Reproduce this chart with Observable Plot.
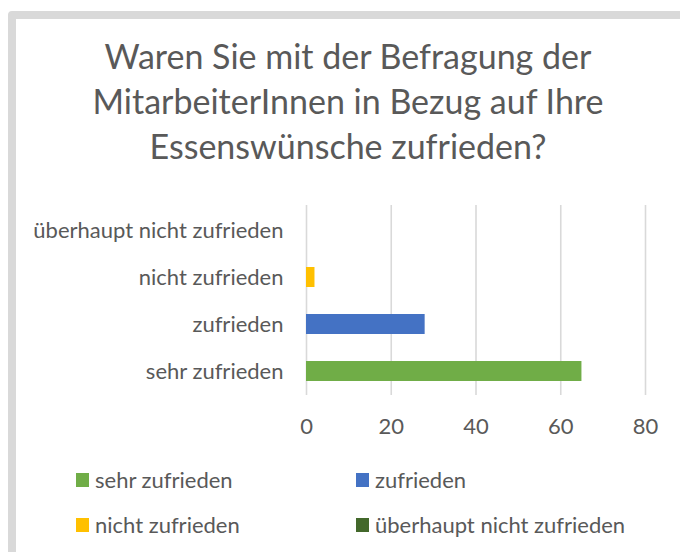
<!DOCTYPE html>
<html>
<head>
<meta charset="utf-8">
<script src="https://cdn.jsdelivr.net/npm/d3@7"></script>
<script src="https://cdn.jsdelivr.net/npm/@observablehq/plot@0.6"></script>
<style>
  html, body { margin: 0; padding: 0; width: 680px; height: 552px; overflow: hidden; background: #fff; font-family: Lato, "Open Sans", sans-serif; color: #595959; }
  #frame { position: absolute; left: 8px; top: 11px; width: 800px; height: 700px; border: 8px solid #d9d9d9; border-radius: 4px; box-sizing: border-box; }
  #title { position: absolute; left: 0; top: 33px; width: 696px; text-align: center; font-size: 34px; line-height: 45px; color: #595959; }
  #chart { position: absolute; left: 0; top: 195px; }
  .leg { position: absolute; height: 22px; line-height: 22px; font-size: 22px; color: #595959; white-space: nowrap; }
  .sw { position: absolute; width: 13px; height: 14px; top: 4px; }
</style>
</head>
<body>
<div id="frame"></div>
<div id="title">Waren Sie mit der Befragung der<br>MitarbeiterInnen in Bezug auf Ihre<br>Essenswünsche zufrieden?</div>
<div id="chart"></div>
<div id="legend"></div>
<script>
const categories = ["sehr zufrieden", "zufrieden", "nicht zufrieden", "überhaupt nicht zufrieden"];
const values = [65, 28, 2, 0];
const colors = ["#70ad47", "#4472c4", "#ffc000", "#43682b"];
const xTicks = [0, 20, 40, 60, 80];

const data = categories.map((c, i) => ({category: c, value: values[i]}));

const chart = Plot.plot({
  width: 680,
  height: 250,
  marginLeft: 306,
  marginRight: 35,
  marginTop: 10,
  marginBottom: 50,
  style: {fontFamily: "Lato, 'Open Sans', sans-serif", fontSize: "22px", color: "#595959", background: "transparent", overflow: "visible"},
  x: {domain: [0, 80], ticks: xTicks, tickSize: 0, tickPadding: 23, label: null},
  y: {domain: categories.slice().reverse(), paddingInner: 0.58, paddingOuter: 0.29, tickSize: 0, tickPadding: 23, label: null},
  color: {domain: categories, range: colors},
  marks: [
    Plot.ruleX(xTicks, {stroke: "#d9d9d9", strokeWidth: 1.6}),
    Plot.barX(data, {x: "value", y: "category", fill: "category"})
  ]
});
document.getElementById("chart").appendChild(chart);

// legend built from the same arrays
const legendPos = [
  {left: 76, top: 469}, {left: 356, top: 469},
  {left: 76, top: 514}, {left: 356, top: 514}
];
const legend = document.getElementById("legend");
categories.forEach((c, i) => {
  const item = document.createElement("div");
  item.className = "leg";
  item.style.left = legendPos[i].left + "px";
  item.style.top = legendPos[i].top + "px";
  const sw = document.createElement("span");
  sw.className = "sw";
  sw.style.left = "0px";
  sw.style.background = colors[i];
  const tx = document.createElement("span");
  tx.style.marginLeft = "19px";
  tx.textContent = c;
  item.appendChild(sw);
  item.appendChild(tx);
  legend.appendChild(item);
});
</script>
</body>
</html>
